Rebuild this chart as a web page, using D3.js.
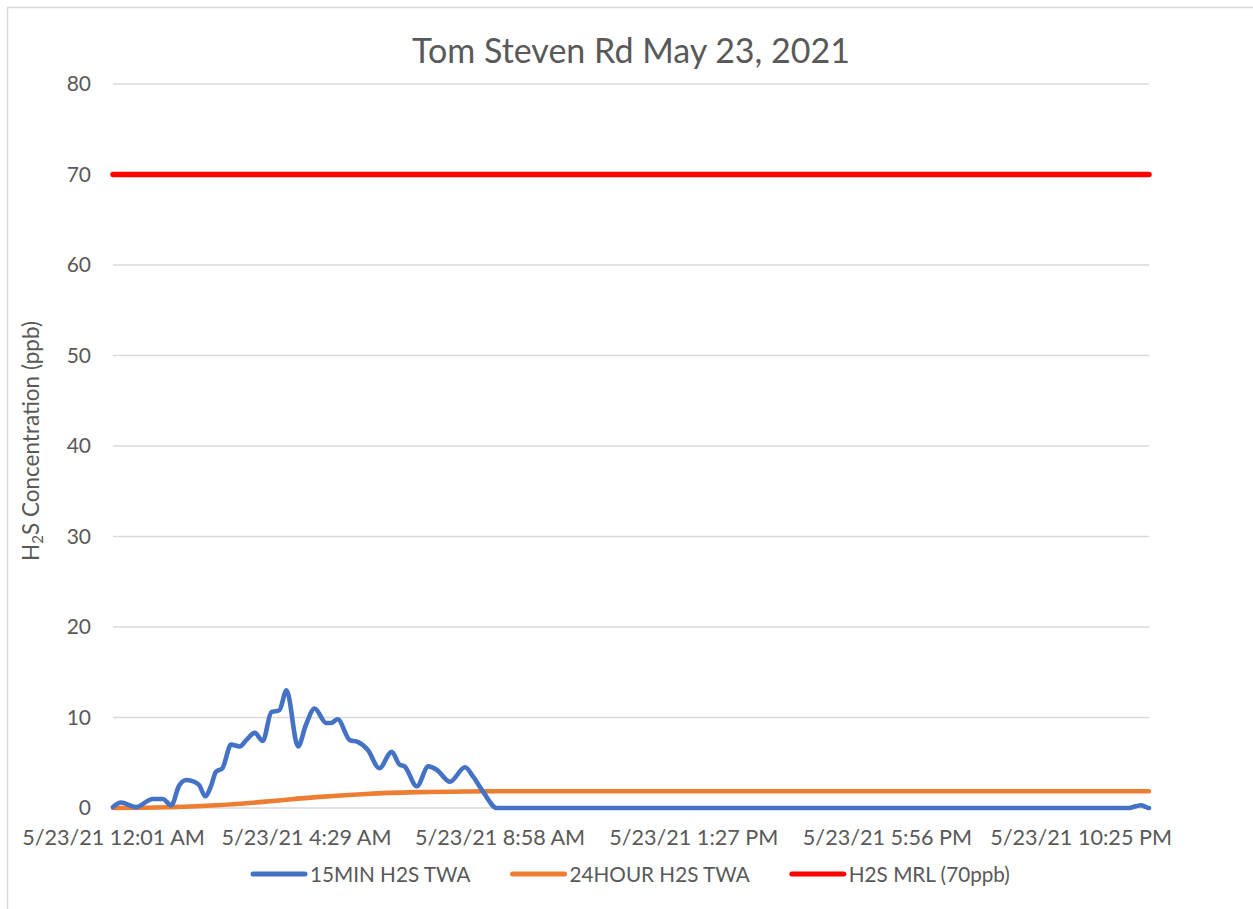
<!DOCTYPE html>
<html lang="en">
<head>
<meta charset="utf-8">
<title>Tom Steven Rd May 23, 2021</title>
<script src="https://cdn.jsdelivr.net/npm/d3@7"></script>
<style>
  body { margin: 0; background: #fff; }
  text { font-family: Lato, "Open Sans", sans-serif; fill: #595959; }
</style>
</head>
<body>
<div id="chart"></div>
<script>
// minutes after midnight on 5/23/21
const blueMinutes = [1, 12, 33, 56, 70, 82, 93, 103, 114, 121, 129, 137, 144, 153, 165, 177, 186, 198, 209, 221, 232, 242, 258, 269, 281, 297, 304, 313, 330, 341, 355, 371, 388, 399, 406, 423, 439, 451, 469, 490, 501, 515, 534, 1412, 1422, 1429, 1436, 1440];
const blueValues  = [0.1, 0.6, 0.1, 1.0, 1.0, 0.3, 2.5, 3.1, 2.9, 2.5, 1.3, 2.4, 4.0, 4.4, 7.0, 6.8, 7.5, 8.3, 7.4, 10.6, 10.8, 13.0, 6.8, 9.2, 11.0, 9.4, 9.4, 9.8, 7.5, 7.3, 6.4, 4.4, 6.2, 4.8, 4.6, 2.4, 4.6, 4.2, 2.9, 4.5, 3.5, 1.8, 0, 0, 0.2, 0.3, 0.1, 0];

const orangeMinutes = [1, 60, 83, 144, 213, 283, 352, 422, 491, 534, 1440];
const orangeValues  = [0, 0.05, 0.1, 0.3, 0.7, 1.2, 1.55, 1.75, 1.83, 1.85, 1.85];

const mrlMinutes = [1, 1440];
const mrlValues  = [70, 70];

const tickMinutes = [1, 269, 538, 807, 1076, 1345];
const tickLabels = ["5/23/21 12:01 AM", "5/23/21 4:29 AM", "5/23/21 8:58 AM", "5/23/21 1:27 PM", "5/23/21 5:56 PM", "5/23/21 10:25 PM"];
const yTicks = [0, 10, 20, 30, 40, 50, 60, 70, 80];

const seriesNames = ["15MIN H2S TWA", "24HOUR H2S TWA", "H2S MRL (70ppb)"];
const seriesColors = ["#4472C4", "#ED7D31", "#FF0000"];

const W = 1253, H = 909;
const plot = {left: 113, right: 1149, top: 84, bottom: 808};

const svg = d3.select("#chart").append("svg")
    .attr("width", W).attr("height", H);

// chart area border
svg.append("rect")
    .attr("x", 7.5).attr("y", 7.5)
    .attr("width", W + 20).attr("height", H + 20)
    .attr("fill", "none").attr("stroke", "#D9D9D9").attr("stroke-width", 1.5);

const x = d3.scaleLinear().domain([1, 1440]).range([plot.left, plot.right]);
const y = d3.scaleLinear().domain([0, 80]).range([plot.bottom, plot.top]);

// gridlines
svg.append("g")
    .selectAll("line").data(yTicks).enter().append("line")
    .attr("x1", plot.left).attr("x2", plot.right)
    .attr("y1", d => y(d)).attr("y2", d => y(d))
    .attr("stroke", "#D9D9D9").attr("stroke-width", 1.3);

// y axis labels
const yAxis = svg.append("g")
    .attr("transform", "translate(" + (plot.left - 22) + ",0)")
    .call(d3.axisLeft(y).tickValues(yTicks).tickSize(0).tickPadding(0));
yAxis.select(".domain").remove();
yAxis.selectAll("text").style("font-size", "21px").attr("fill", "#595959");

// x axis labels
const xAxis = svg.append("g")
    .attr("transform", "translate(0," + (plot.bottom + 22) + ")")
    .call(d3.axisBottom(x).tickValues(tickMinutes).tickFormat((d, i) => tickLabels[i]).tickSize(0).tickPadding(0));
xAxis.select(".domain").remove();
xAxis.selectAll("text").style("font-size", "21.6px").attr("fill", "#595959");

// title
svg.append("text")
    .attr("x", 631).attr("y", 63)
    .attr("text-anchor", "middle")
    .style("font-size", "34px")
    .text("Tom Steven Rd May 23, 2021");

// y title
const yt = svg.append("text")
    .attr("transform", "translate(39,441) rotate(-90)")
    .attr("text-anchor", "middle")
    .style("font-size", "22.5px");
yt.append("tspan").text("H");
yt.append("tspan").attr("baseline-shift", "-25%").style("font-size", "15px").text("2");
yt.append("tspan").text("S Concentration (ppb)");

// lines
const line = d3.line()
    .x(d => x(d[0])).y(d => y(d[1]))
    .curve(d3.curveMonotoneX);

const series = [
    d3.zip(blueMinutes, blueValues),
    d3.zip(orangeMinutes, orangeValues),
    d3.zip(mrlMinutes, mrlValues)
];
const widths = [4.6, 4.6, 5.5];

// draw orange first, then blue on top, red last
[1, 0, 2].forEach(i => {
    svg.append("path")
        .datum(series[i])
        .attr("d", line)
        .attr("fill", "none")
        .attr("stroke", seriesColors[i])
        .attr("stroke-width", widths[i])
        .attr("stroke-linejoin", "round")
        .attr("stroke-linecap", "round");
});

// legend
const legend = svg.append("g").attr("transform", "translate(0,874)");
let lx = 253;
seriesNames.forEach((name, i) => {
    legend.append("line")
        .attr("x1", lx).attr("x2", lx + 52)
        .attr("y1", 0).attr("y2", 0)
        .attr("stroke", seriesColors[i]).attr("stroke-width", 5)
        .attr("stroke-linecap", "round");
    const t = legend.append("text")
        .attr("x", lx + 57).attr("y", 7.5)
        .style("font-size", "20.7px")
        .text(name);
    lx += 57 + t.node().getComputedTextLength() + 42;
});
</script>
</body>
</html>
